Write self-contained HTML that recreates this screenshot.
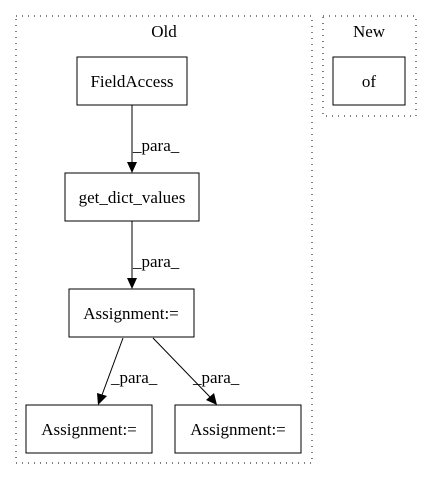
<!DOCTYPE html>
<html><head><style>body{margin:0;background:#fff}</style></head><body>
<svg width="432" height="480" xmlns="http://www.w3.org/2000/svg" font-family="Liberation Serif, serif" font-size="17">
<rect x="16" y="16" width="296" height="447" fill="none" stroke="#000" stroke-dasharray="1,5"/>
<rect x="323" y="16" width="93" height="100" fill="none" stroke="#000" stroke-dasharray="1,5"/>
<text x="164" y="37" text-anchor="middle">Old</text>
<text x="369" y="37" text-anchor="middle">New</text>
<g fill="none" stroke="#000">
<rect x="77" y="57" width="110" height="48"/>
<rect x="65" y="173" width="134" height="48"/>
<rect x="69" y="289" width="125" height="48"/>
<rect x="26" y="405" width="126" height="48"/>
<rect x="175" y="405" width="126" height="48"/>
<rect x="333" y="57" width="72" height="48"/>
<line x1="132" y1="105" x2="132" y2="162"/>
<line x1="132" y1="221" x2="132" y2="278"/>
<line x1="123" y1="338" x2="102" y2="395"/>
<line x1="153" y1="338" x2="210" y2="397"/>
</g>
<g fill="#000">
<polygon points="127,162 137,162 132,173"/>
<polygon points="127,278 137,278 132,289"/>
<polygon points="97,393 107,396 98,405"/>
<polygon points="206,400 214,393 217,405"/>
</g>
<g text-anchor="middle">
<text x="132" y="87">FieldAccess</text>
<text x="132" y="203">get_dict_values</text>
<text x="131" y="319">Assignment:=</text>
<text x="89" y="435">Assignment:=</text>
<text x="238" y="435">Assignment:=</text>
<text x="369" y="87">of</text>
</g>
<text x="133" y="151">_para_</text>
<text x="133" y="267">_para_</text>
<text x="111" y="383">_para_</text>
<text x="193" y="383">_para_</text>
</svg>
</body></html>
